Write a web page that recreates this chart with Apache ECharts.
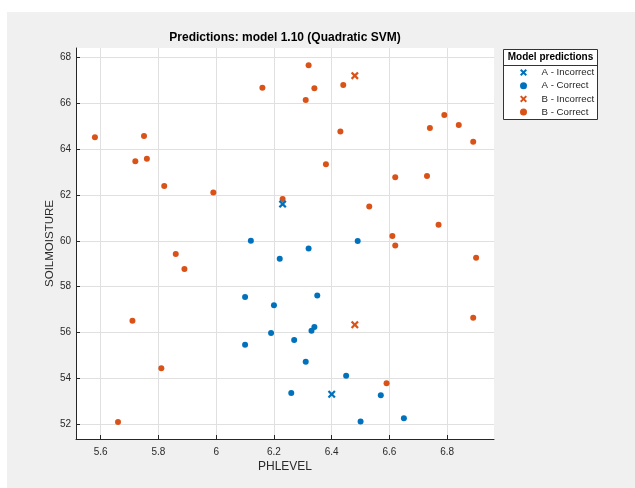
<!DOCTYPE html>
<html>
<head>
<meta charset="utf-8">
<script src="https://cdn.jsdelivr.net/npm/echarts@6/dist/echarts.min.js"></script>
<style>html,body{margin:0;padding:0;background:#fff;}#c{width:635px;height:488px;}</style>
</head>
<body>
<div id="c"></div>
<script>
// ---- data ----
const xTicks = [5.6, 5.8, 6, 6.2, 6.4, 6.6, 6.8];
const yTicks = [52, 54, 56, 58, 60, 62, 64, 66, 68];

const aIncorrectX = [6.23, 6.40];
const aIncorrectY = [61.60, 53.31];

const aCorrectX = [6.12, 6.22, 6.10, 6.20, 6.19, 6.10, 6.49, 6.32, 6.35, 6.34, 6.33, 6.27, 6.31, 6.45, 6.26, 6.57, 6.65, 6.50];
const aCorrectY = [60.00, 59.22, 57.55, 57.19, 55.98, 55.47, 59.99, 59.66, 57.62, 56.24, 56.08, 55.68, 54.73, 54.12, 53.37, 53.27, 52.26, 52.12];

const bIncorrectX = [6.48, 6.48];
const bIncorrectY = [67.20, 56.34];

const bCorrectX = [5.58, 5.72, 5.75, 5.76, 5.82, 5.99, 6.16, 6.32, 6.34, 6.44, 6.31, 6.79, 6.74, 6.84, 6.89, 6.43, 6.38, 6.62, 6.73, 6.23, 6.53, 6.77, 6.61, 5.86, 5.89, 5.71, 5.81, 5.66, 6.62, 6.90, 6.89, 6.59];
const bCorrectY = [64.51, 63.47, 64.57, 63.58, 62.39, 62.11, 66.67, 67.65, 66.65, 66.79, 66.14, 65.48, 64.92, 65.05, 64.32, 64.76, 63.34, 62.77, 62.83, 61.82, 61.50, 60.70, 60.21, 59.43, 58.77, 56.52, 54.44, 52.10, 59.80, 59.26, 56.65, 53.79];

const seriesNames = ['A - Incorrect', 'A - Correct', 'B - Incorrect', 'B - Correct'];

// ---- build ----
const zip = (xs, ys) => xs.map((x, i) => [x, ys[i]]);
const BLUE = '#0072BD', ORANGE = '#D95319';
const CROSS = 'path://M0,2 L2,0 L5,3 L8,0 L10,2 L7,5 L10,8 L8,10 L5,7 L2,10 L0,8 L3,5 Z';
const FONT = 'Liberation Sans, Arial, Helvetica, sans-serif';

const chart = echarts.init(document.getElementById('c'), null, {renderer: 'canvas'});
const axisCommon = {
  type: 'value',
  axisLine: {show: true, lineStyle: {color: '#262626', width: 1}},
  axisTick: {show: true, inside: true, length: 4, lineStyle: {color: '#262626'}},
  axisLabel: {color: '#2a2a2a', fontSize: 10, fontFamily: FONT},
  splitLine: {show: true, lineStyle: {color: '#e0e0e0', width: 1}},
  nameTextStyle: {color: '#2a2a2a', fontSize: 12, fontFamily: FONT},
  nameLocation: 'middle',
  nameMoveOverlap: false
};

chart.setOption({
  backgroundColor: '#f0f0f0',
  animation: false,
  grid: {left: 76, top: 48, right: 141, bottom: 49, show: true, backgroundColor: '#ffffff', borderWidth: 0, containLabel: false},
  xAxis: Object.assign({}, axisCommon, {
    min: 5.5145, max: 6.962,
    name: 'PHLEVEL', nameGap: 22,
    axisTick: Object.assign({}, axisCommon.axisTick, {customValues: xTicks}),
    axisLabel: Object.assign({}, axisCommon.axisLabel, {customValues: xTicks, margin: 8})
  }),
  yAxis: Object.assign({}, axisCommon, {
    min: 51.36, max: 68.405,
    name: 'SOILMOISTURE', nameGap: 20,
    nameTextStyle: {color: '#2a2a2a', fontSize: 11.5, fontFamily: FONT},
    axisTick: Object.assign({}, axisCommon.axisTick, {customValues: yTicks}),
    axisLabel: Object.assign({}, axisCommon.axisLabel, {customValues: yTicks, margin: 5})
  }),
  legend: {
    orient: 'vertical', left: 520, top: 66, z: 5,
    padding: 0, itemGap: 0.2, itemWidth: 26, itemHeight: 7,
    textStyle: {color: '#262626', fontSize: 9.7, fontFamily: FONT, lineHeight: 13},
    data: seriesNames
  },
  graphic: [
    {type: 'rect', shape: {x: 0, y: 0, width: 635, height: 12}, style: {fill: '#ffffff'}, z: 0, silent: true},
    {type: 'rect', shape: {x: 0, y: 0, width: 7, height: 488}, style: {fill: '#ffffff'}, z: 0, silent: true},
    {type: 'rect', shape: {x: 503.5, y: 49.5, width: 94, height: 70}, style: {fill: '#ffffff', stroke: '#333', lineWidth: 1}, z: 1, silent: true},
    {type: 'line', shape: {x1: 503.5, y1: 65.5, x2: 597.5, y2: 65.5}, style: {stroke: '#333', lineWidth: 1}, z: 2, silent: true},
    {type: 'text', x: 550.5, y: 57.5, z: 3, silent: true,
      style: {text: 'Model predictions', fontSize: 10, fontWeight: 'bold', fontFamily: FONT, fill: '#000', textAlign: 'center', textVerticalAlign: 'middle'}},
    {type: 'text', x: 285, y: 37.5, z: 3, silent: true,
      style: {text: 'Predictions: model 1.10 (Quadratic SVM)', fontSize: 12, fontWeight: 'bold', fontFamily: FONT, fill: '#000', textAlign: 'center', textVerticalAlign: 'middle'}}
  ],
  series: [
    {name: seriesNames[0], type: 'scatter', symbol: CROSS, symbolSize: 8, itemStyle: {color: BLUE, opacity: 1}, data: zip(aIncorrectX, aIncorrectY), z: 4},
    {name: seriesNames[1], type: 'scatter', symbol: 'circle', symbolSize: 6, itemStyle: {color: BLUE, opacity: 1}, data: zip(aCorrectX, aCorrectY), z: 3},
    {name: seriesNames[2], type: 'scatter', symbol: CROSS, symbolSize: 8, itemStyle: {color: ORANGE, opacity: 1}, data: zip(bIncorrectX, bIncorrectY), z: 4},
    {name: seriesNames[3], type: 'scatter', symbol: 'circle', symbolSize: 6, itemStyle: {color: ORANGE, opacity: 1}, data: zip(bCorrectX, bCorrectY), z: 2}
  ]
});
</script>
</body>
</html>
